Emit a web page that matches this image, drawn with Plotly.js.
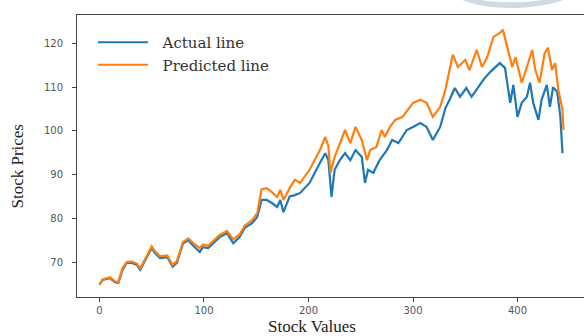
<!DOCTYPE html>
<html>
<head>
<meta charset="utf-8">
<script src="https://cdn.plot.ly/plotly-3.0.1.min.js"></script>
<style>html,body{margin:0;padding:0;background:#fff;}#chart{width:584px;height:336px;}</style>
</head>
<body>
<div id="chart"></div>
<script>
// Actual line (blue)
const actualX = [0,3,10,15,18,22,26,31,36,39,44,50,53,58,65,70,74,80,85,89,96,99,104,109,115,122,128,134,139,146,151,155,160,165,170,173,176,182,187,192,201,211,216,219,222,225,230,235,240,245,251,254,257,262,268,275,280,286,294,300,307,313,319,326,331,335,340,345,351,356,362,368,374,378,383,388,391,393,396,400,404,409,412,415,420,423,428,431,434,438,441,443];
const actualY = [64.8,65.9,66.3,65.4,65.2,68.2,69.8,69.8,69.3,68.2,70.5,73.2,72.1,70.9,71.1,68.9,69.8,74.3,75.0,73.9,72.3,73.4,73.2,74.3,75.7,76.6,74.3,75.7,77.8,78.9,80.3,84.2,84.2,83.5,82.6,84.2,81.4,85.0,85.3,85.8,88.1,92.7,94.9,93.3,84.9,91.1,93.3,94.9,93.3,95.6,94.0,88.1,91.1,90.4,93.3,95.6,97.9,97.2,100.2,100.9,101.8,100.9,97.9,100.9,105.2,107.1,109.8,107.8,109.8,107.8,110.0,111.9,113.5,114.4,115.5,114.4,110.0,106.4,110.5,103.2,106.4,107.8,111.0,106.4,102.5,107.1,110.5,105.5,110.0,108.9,103.2,94.9];

// Predicted line (orange)
const predX = [0,3,10,15,18,22,26,31,36,39,44,50,53,58,65,70,74,80,85,89,96,99,104,109,115,122,128,134,139,146,151,155,160,165,170,173,176,182,187,192,201,211,216,219,221,225,230,235,240,245,251,256,259,265,270,273,278,283,290,300,307,313,319,326,331,333,338,343,350,354,361,366,371,377,383,386,390,395,398,404,409,414,417,421,426,429,433,436,439,443,444];
const predY = [64.9,66.0,66.5,65.6,65.4,68.6,70.0,70.1,69.6,68.6,70.8,73.6,72.5,71.3,71.5,69.3,70.2,74.6,75.4,74.5,73.2,74.0,73.7,74.8,76.2,77.1,75.2,76.3,78.3,79.6,81.2,86.6,86.9,86.0,84.9,86.5,84.2,86.9,88.8,88.1,91.1,95.6,98.6,96.5,90.4,94.0,97.2,100.2,97.2,100.9,97.9,93.3,95.6,96.3,100.2,98.6,100.9,102.5,103.2,106.4,107.1,106.4,103.2,105.5,109.4,111.6,117.4,114.6,116.2,113.9,118.5,114.6,116.9,121.5,122.4,123.1,119.2,114.6,116.9,111.0,114.6,118.5,113.9,111.0,117.8,119.0,113.9,115.5,109.4,104.8,100.2];

const xTicks = [0,100,200,300,400];
const yTicks = [70,80,90,100,110,120];
const seriesNames = ['Actual line','Predicted line'];
const xTitle = 'Stock Values';
const yTitle = 'Stock Prices';

const pad = '\u00a0\u00a0';
const traces = [
  {x: actualX, y: actualY, type: 'scatter', mode: 'lines', name: pad + seriesNames[0],
   line: {color: '#1f77b4', width: 2.2}},
  {x: predX, y: predY, type: 'scatter', mode: 'lines', name: pad + seriesNames[1],
   line: {color: '#ff7f0e', width: 2.2}}
];

const tickFont = {family: 'DejaVu Sans, sans-serif', size: 10, color: '#555'};
const serif = 'Liberation Serif, Times New Roman, serif';

const layout = {
  width: 584, height: 336,
  margin: {l: 77, r: 0, t: 15, b: 39},
  paper_bgcolor: '#ffffff', plot_bgcolor: '#ffffff',
  showlegend: true,
  legend: {x: 0.0316, y: 0.961, xanchor: 'left', yanchor: 'top', bgcolor: 'rgba(255,255,255,0)',
           font: {family: 'DejaVu Serif, serif', size: 15, color: '#333'}, itemwidth: 50, tracegroupgap: 0},
  xaxis: {
    range: [-21.5, 463.6], tickvals: xTicks, ticktext: xTicks.map(String),
    showgrid: false, zeroline: false, showline: true, linecolor: '#444', linewidth: 1, mirror: true,
    ticks: 'outside', ticklen: 4, tickcolor: '#444', tickfont: tickFont, ticklabelstandoff: 0
  },
  yaxis: {
    range: [62.0, 126.5], tickvals: yTicks, ticktext: yTicks.map(String),
    showgrid: false, zeroline: false, showline: true, linecolor: '#444', linewidth: 1,
    ticks: 'outside', ticklen: 4, tickcolor: '#444', tickfont: tickFont, ticklabelstandoff: 7
  },
  annotations: [
    {text: xTitle, xref: 'paper', yref: 'paper', x: 0.464, y: -0.1383, xanchor: 'center', yanchor: 'bottom',
     showarrow: false, borderpad: 0, borderwidth: 0, font: {family: serif, size: 17, color: '#222'}},
    {text: yTitle, xref: 'paper', yref: 'paper', x: -0.117, y: 0.465, xanchor: 'center', yanchor: 'middle',
     textangle: -90, showarrow: false, font: {family: serif, size: 17, color: '#222'}}
  ],
  shapes: [
    {type: 'path', xref: 'paper', yref: 'paper', layer: 'above',
     path: 'M 0.75 1.06 Q 0.80 1.02 0.87 1.025 Q 0.93 1.03 0.97 1.06 L 0.94 1.06 Q 0.90 1.045 0.86 1.045 Q 0.81 1.045 0.78 1.06 Z',
     fillcolor: 'rgba(170,188,200,0.55)', line: {width: 0}}
  ]
};

Plotly.newPlot('chart', traces, layout, {displayModeBar: false, staticPlot: true});
</script>
</body>
</html>
